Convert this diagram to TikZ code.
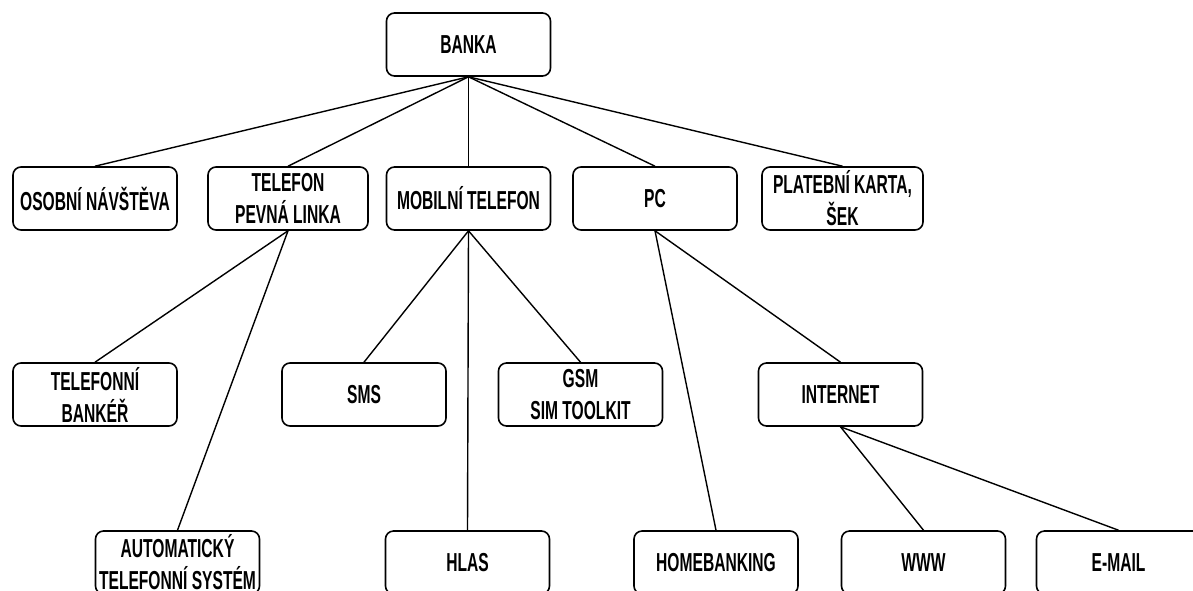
\documentclass[tikz,border=0pt]{standalone}
\usepackage{fontspec}
\newfontfamily\lab[FakeStretch=0.6]{Liberation Sans}
\begin{document}
\begin{tikzpicture}[x=1pt,y=-1pt,
  box/.style={draw=black,line width=1.6pt,rounded corners=8pt,minimum width=164pt,minimum height=63pt,inner sep=0pt,align=center,font=\lab\bfseries\fontsize{26}{32}\selectfont},
  conn/.style={draw=black,line width=1.4pt}]
\useasboundingbox (0,0) rectangle (1193,590);
\clip (0,0) rectangle (1193,590);
\node[box] (banka) at (468.5,44.5) {BANKA};
\node[box] (osobni) at (95,198.5) {OSOBNÍ NÁVŠTĚVA};
\node[box,minimum width=160pt] (telefon) at (288,198.5) {TELEFON\\PEVNÁ LINKA};
\node[box] (mobil) at (468.5,198.5) {MOBILNÍ TELEFON};
\node[box] (pc) at (655,198.5) {PC};
\node[box,minimum width=161pt] (karta) at (842.5,198.5) {PLATEBNÍ KARTA,\\ŠEK};
\node[box] (bankar) at (95,394.5) {TELEFONNÍ\\BANKÉŘ};
\node[box] (sms) at (364,394.5) {SMS};
\node[box] (gsm) at (580.5,394.5) {GSM\\SIM TOOLKIT};
\node[box] (internet) at (840.5,394.5) {INTERNET};
\node[box] (auto) at (177.5,562.5) {AUTOMATICKÝ\\TELEFONNÍ SYSTÉM};
\node[box] (hlas) at (467.5,562.5) {HLAS};
\node[box] (home) at (716,562.5) {HOMEBANKING};
\node[box] (www) at (923.5,562.5) {WWW};
\node[box] (email) at (1118.5,562.5) {E-MAIL};
\foreach \t in {osobni,telefon,mobil,pc,karta}
  \draw[conn] (banka.south) -- (\t.north);
\draw[conn] (telefon.south) -- (bankar.north);
\draw[conn] (telefon.south) -- (auto.north);
\draw[conn] (mobil.south) -- (sms.north);
\draw[conn] (mobil.south) -- (hlas.north);
\draw[conn] (mobil.south) -- (gsm.north);
\draw[conn] (pc.south) -- (home.north);
\draw[conn] (pc.south) -- (internet.north);
\draw[conn] (internet.south) -- (www.north);
\draw[conn] (internet.south) -- (email.north);
\end{tikzpicture}
\end{document}
